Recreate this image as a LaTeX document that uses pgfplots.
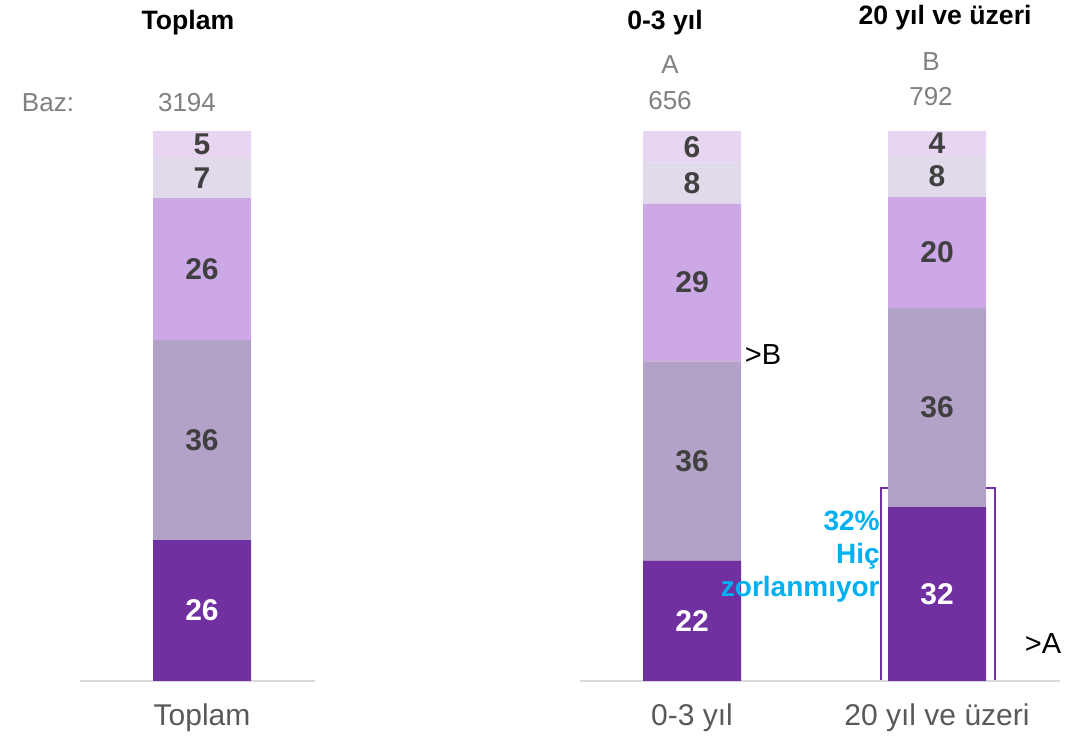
\documentclass[border=0pt]{standalone}
\usepackage{pgfplots}
\pgfplotsset{compat=1.18}
\usepackage{pgfplotstable}
\usepackage{fontspec}
\setmainfont{Liberation Sans}
\definecolor{cA}{HTML}{7030A0}
\definecolor{cB}{HTML}{B3A2C7}
\definecolor{cC}{HTML}{CCA9E6}
\definecolor{cD}{HTML}{E0DAEA}
\definecolor{cE}{HTML}{E8D5F1}
\definecolor{lbl}{HTML}{404040}
\definecolor{gtxt}{HTML}{808080}
\definecolor{cat}{HTML}{595959}
\definecolor{blu}{HTML}{00B0F0}
\definecolor{base}{HTML}{D9D9D9}

\pgfplotstableread{
x s1 s2 s3 s4 s5
202 25.6 36.4 25.8 7.3 4.9
692 21.9 36.2 28.7 7.5 5.7
937 31.6 36.2 20.2 7.6 4.4
}\data

\begin{document}
\begin{tikzpicture}
\begin{axis}[
  ybar stacked, bar width=98,
  xmin=0, xmax=1091, ymin=-9.82, ymax=123.82,
  width=545.5pt, height=367.5pt, scale only axis, clip=false,
  axis line style={draw=none}, major tick length=0pt, ytick=\empty,
  xtick={202,692,937},
  xticklabels={Toplam,0-3 yıl,20 yıl ve üzeri},
  xticklabel style={font=\fontsize{15}{17}\selectfont, text=cat, anchor=base, yshift=5pt},
  visualization depends on={rawy \as \rawy},
  nodes near coords={\pgfmathprintnumber[fixed,precision=0,assume math mode=true]{\rawy}},
  every node near coord/.append style={anchor=center, font=\fontsize{15}{17}\selectfont\bfseries, text=lbl},
]
\coordinate (ll) at (rel axis cs:0,0);
\coordinate (ur) at (rel axis cs:1,1);
\addplot[fill=cA, draw=none, every node near coord/.append style={text=white}] table[x=x,y=s1]{\data};
\addplot[fill=cB, draw=none] table[x=x,y=s2]{\data};
\addplot[fill=cC, draw=none] table[x=x,y=s3]{\data};
\addplot[fill=cD, draw=none] table[x=x,y=s4]{\data};
\addplot[fill=cE, draw=none] table[x=x,y=s5]{\data};

\draw[base, line width=1pt] (axis cs:80,0) -- (axis cs:315,0);
\draw[base, line width=1pt] (axis cs:580,0) -- (axis cs:1060,0);
\draw[cA, line width=0.6pt] (axis cs:881,0) rectangle (axis cs:995,35.1);

\node[font=\fontsize{13.3}{15}\selectfont\bfseries] at (axis cs:188,119.65) {Toplam};
\node[font=\fontsize{13.3}{15}\selectfont\bfseries] at (axis cs:665,119.65) {0-3 yıl};
\node[font=\fontsize{13.3}{15}\selectfont\bfseries] at (axis cs:945,120.55) {20 yıl ve üzeri};

\node[font=\fontsize{13}{15}\selectfont, text=gtxt] at (axis cs:48,105.1) {Baz:};
\node[font=\fontsize{13}{15}\selectfont, text=gtxt] at (axis cs:187,105.1) {3194};
\node[font=\fontsize{13}{15}\selectfont, text=gtxt] at (axis cs:670,112.0) {A};
\node[font=\fontsize{13}{15}\selectfont, text=gtxt] at (axis cs:670,105.45) {656};
\node[font=\fontsize{13}{15}\selectfont, text=gtxt] at (axis cs:931,112.7) {B};
\node[font=\fontsize{13}{15}\selectfont, text=gtxt] at (axis cs:931,106.2) {792};

\node[font=\fontsize{14.5}{16}\selectfont] at (axis cs:763,59.45) {>B};
\node[font=\fontsize{14.5}{16}\selectfont] at (axis cs:1043,6.73) {>A};

\coordinate (bt) at (axis cs:880,22.6);
\end{axis}
\node[font=\fontsize{14}{16.5}\selectfont\bfseries, text=blu, align=right, anchor=east, inner sep=0pt] at (bt) {32\%\\Hiç\\zorlanmıyor};
\pgfresetboundingbox
\path[use as bounding box] (ll) rectangle (ur);
\end{tikzpicture}
\end{document}
